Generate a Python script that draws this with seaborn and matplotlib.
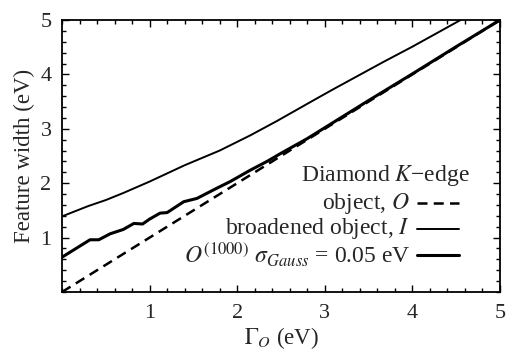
import numpy as np
import pandas as pd
import matplotlib
matplotlib.use("Agg")
import matplotlib.pyplot as plt
import seaborn as sns
from matplotlib.ticker import MultipleLocator

# Data
obj_x = [0.0, 5.0]
obj_y = [0.0, 5.0]

broad_x = [0.0, 0.3, 0.5, 0.7, 1.0, 1.4, 1.8, 2.15, 2.45, 2.9, 3.1, 3.67, 4.0, 4.55]
broad_y = [1.39, 1.58, 1.69, 1.82, 2.03, 2.33, 2.60, 2.88, 3.14, 3.55, 3.73, 4.23, 4.51, 5.0]

o1000_x = [0.0, 0.32, 0.42, 0.55, 0.70, 0.82, 0.92, 1.0, 1.12, 1.20, 1.39, 1.54,
           1.77, 1.92, 2.15, 2.34, 2.5, 2.8, 3.0, 3.5, 4.0, 4.5, 5.0]
o1000_y = [0.64, 0.96, 0.96, 1.07, 1.15, 1.26, 1.25, 1.34, 1.45, 1.46, 1.66, 1.72,
           1.91, 2.03, 2.24, 2.40, 2.55, 2.82, 3.02, 3.52, 4.01, 4.51, 5.0]

x_ticks = [1, 2, 3, 4, 5]
y_ticks = [1, 2, 3, 4, 5]

sns.set_style("ticks")
plt.rcParams['font.family'] = ['Liberation Serif', 'DejaVu Serif']
plt.rcParams['mathtext.fontset'] = 'stix'

df = pd.concat([
    pd.DataFrame({'x': obj_x, 'y': obj_y, 's': 'obj'}),
    pd.DataFrame({'x': broad_x, 'y': broad_y, 's': 'broad'}),
    pd.DataFrame({'x': o1000_x, 'y': o1000_y, 's': 'o1000'}),
], ignore_index=True)

fig = plt.figure(figsize=(5.09, 3.55), dpi=100)
ax = fig.add_axes([62/509, 1-292/355, (500-62)/509, (292-20)/355])

sns.lineplot(data=df[df.s == 'obj'], x='x', y='y', ax=ax, color='black', lw=1.8,
             linestyle=(0, (4, 2.5)), sort=False, estimator=None)
sns.lineplot(data=df[df.s == 'broad'], x='x', y='y', ax=ax, color='black', lw=1.4,
             sort=False, estimator=None)
sns.lineplot(data=df[df.s == 'o1000'], x='x', y='y', ax=ax, color='black', lw=2.2,
             sort=False, estimator=None)

ax.set_xlim(0, 5)
ax.set_ylim(0, 5)
ax.set_xticks(x_ticks)
ax.set_yticks(y_ticks)
ax.xaxis.set_minor_locator(MultipleLocator(0.2))
ax.yaxis.set_minor_locator(MultipleLocator(0.2))
ax.tick_params(which='both', direction='in', top=True, right=True, color='black', width=1)
ax.tick_params(which='major', length=5, labelsize=16)
ax.tick_params(which='minor', length=3)
ax.tick_params(axis='x', which='major', pad=9)
ax.tick_params(axis='y', which='major', pad=7.5)
for sp in ax.spines.values():
    sp.set_linewidth(1.3)
    sp.set_color('black')

ax.set_xlabel(r"$\Gamma_{O}$ (eV)", fontsize=16.5, labelpad=1)
ax.set_ylabel("Feature width (eV)", fontsize=16.5, labelpad=4)

# Legend as text with line samples
fs = 17
ax.text(0.93, 0.43, r"Diamond $K$−edge", transform=ax.transAxes, ha='right', va='center', fontsize=fs)
rows = [
    (0.327, r"object, $O$", dict(lw=1.8, linestyle=(0, (4, 2.5)))),
    (0.232, r"broadened object, $I$", dict(lw=1.4)),
    (0.136, r"$O^{(1000)}$ $\sigma_{Gauss}$ = 0.05 eV", dict(lw=2.2)),
]
for yy, label, kw in rows:
    ax.text(0.795, yy, label, transform=ax.transAxes, ha='right', va='center', fontsize=fs)
    ax.plot([0.81, 0.906], [yy, yy], transform=ax.transAxes, color='black', **kw)

fig.savefig("out.png", dpi=100)
